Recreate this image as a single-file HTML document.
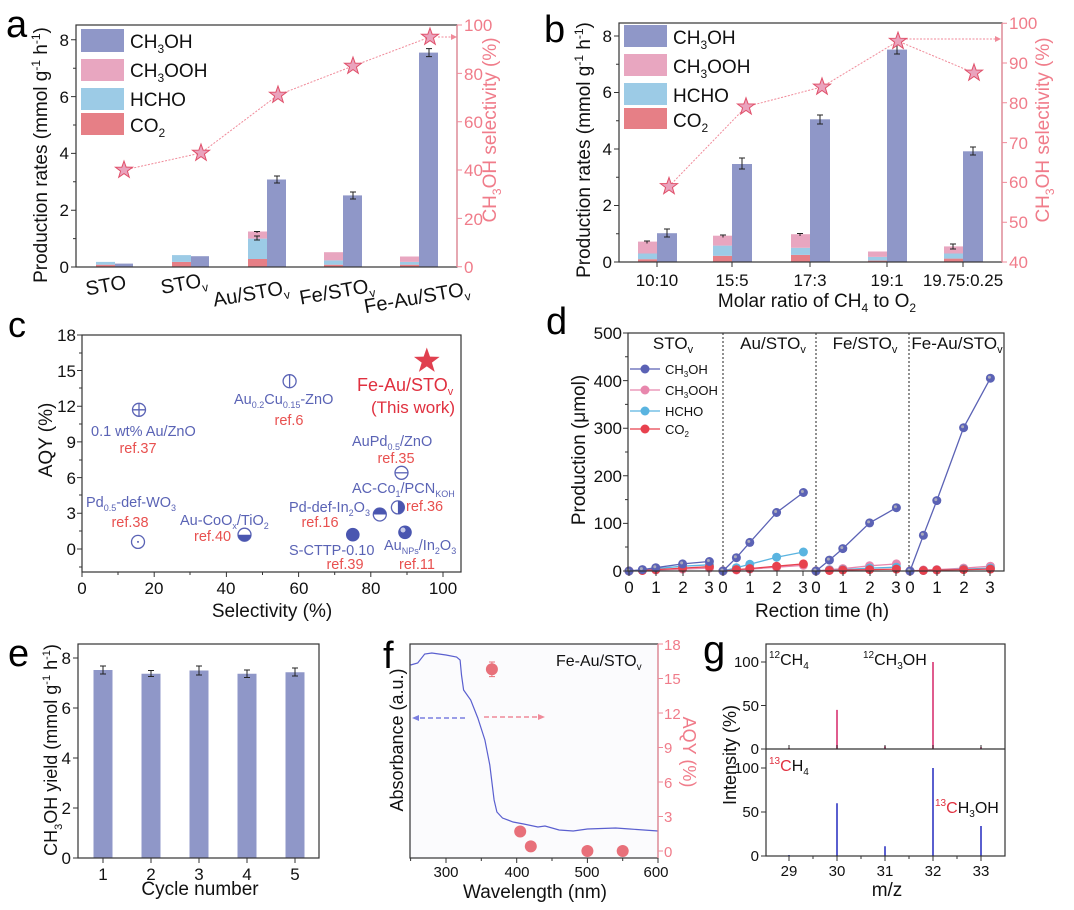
<!DOCTYPE html>
<html><head><meta charset="utf-8"><style>
html,body{margin:0;padding:0;background:#fff}
svg{display:block;font-family:"Liberation Sans",Arial,sans-serif}
</style></head><body>
<svg width="1074" height="910" viewBox="0 0 1074 910" xmlns="http://www.w3.org/2000/svg">
<defs>
<path id="st" d="M0,-9 L2.12,-2.91 L8.56,-2.78 L3.42,1.11 L5.29,7.28 L0,3.6 L-5.29,7.28 L-3.42,1.11 L-8.56,-2.78 L-2.12,-2.91Z" fill="#eaa3bd" stroke="#e0506a" stroke-width="1"/>
<marker id="mB" markerUnits="userSpaceOnUse" markerWidth="12" markerHeight="12" refX="6" refY="6"><circle cx="6" cy="6" r="4.5" fill="#5b62b5"/><circle cx="5" cy="5" r="1.5" fill="#aab"/></marker>
<marker id="mP" markerUnits="userSpaceOnUse" markerWidth="12" markerHeight="12" refX="6" refY="6"><circle cx="6" cy="6" r="4.5" fill="#e887ad"/></marker>
<marker id="mC" markerUnits="userSpaceOnUse" markerWidth="12" markerHeight="12" refX="6" refY="6"><circle cx="6" cy="6" r="4.5" fill="#5ab4e0"/></marker>
<marker id="mR" markerUnits="userSpaceOnUse" markerWidth="12" markerHeight="12" refX="6" refY="6"><circle cx="6" cy="6" r="4.5" fill="#e8414e"/></marker>
</defs>

<!-- ================= PANEL A ================= -->
<text x="6" y="37" font-size="38">a</text>
<g fill="#8f97c8">
<rect x="115" y="263.6" width="18" height="3.4"/><rect x="191" y="256.2" width="18" height="10.8"/>
<rect x="267" y="179.5" width="19" height="87.5"/><rect x="343" y="195.4" width="19" height="71.6"/>
<rect x="419" y="52.6" width="19" height="214.4"/></g>
<g fill="#e67f86"><rect x="96" y="264.7" width="19" height="2.3"/><rect x="172" y="261.9" width="19" height="5.1"/><rect x="248" y="259" width="19" height="8"/><rect x="324" y="264.7" width="19" height="2.3"/><rect x="400" y="264.7" width="19" height="2.3"/></g>
<g fill="#9ccbe6"><rect x="96" y="261.9" width="19" height="2.8"/><rect x="172" y="255.1" width="19" height="6.8"/><rect x="248" y="238.6" width="19" height="20.4"/><rect x="324" y="260.4" width="19" height="4.3"/><rect x="400" y="261.9" width="19" height="2.8"/></g>
<g fill="#e8a6c0"><rect x="248" y="231.5" width="19" height="7.1"/><rect x="324" y="252.2" width="19" height="8.2"/><rect x="400" y="256.5" width="19" height="5.4"/></g>
<g stroke="#222" stroke-width="1"><path d="M277,176v7M274,176h6M274,183h6M353,192v7M350,192h6M350,199h6M429,48.6v8M426,48.6h6M426,56.6h6M257,231v2M254,231.5h6M257,236v4M254,236h6M254,240h6"/></g>
<polyline points="124,170 201,153 278,95 353,66 430,37" fill="none" stroke="#f08a99" stroke-width="1" stroke-dasharray="2,1.5"/>
<path d="M438,37H452" stroke="#f08a99" stroke-dasharray="2,1.5"/><path d="M457,37l-6,-3v6z" fill="#f08a99"/>
<use href="#st" x="124" y="170"/><use href="#st" x="201" y="153"/><use href="#st" x="278" y="95"/><use href="#st" x="353" y="66"/><use href="#st" x="430" y="37"/>
<rect x="76" y="25" width="381" height="242" fill="none" stroke="#333" stroke-width="1.2"/>
<path d="M457,25V267" stroke="#f08a99" stroke-width="1.2"/>
<g stroke="#333"><path d="M76,267h-5M76,210.2h-5M76,153.4h-5M76,96.6h-5M76,39.8h-5M76,238.6h-3M76,181.8h-3M76,125h-3M76,68.2h-3"/></g>
<g stroke="#f08a99"><path d="M457,266.7h5M457,218.4h5M457,170h5M457,121.7h5M457,73.4h5M457,25h5"/></g>
<g font-size="17" text-anchor="end" fill="#111"><text x="69" y="273">0</text><text x="69" y="216">2</text><text x="69" y="159">4</text><text x="69" y="103">6</text><text x="69" y="46">8</text></g>
<g font-size="17" fill="#f07c8a"><text x="464" y="273">0</text><text x="464" y="225">20</text><text x="464" y="176">40</text><text x="464" y="128">60</text><text x="464" y="80">80</text><text x="464" y="31">100</text></g>
<g font-size="19" fill="#111">
<rect x="81" y="29" width="43" height="23" fill="#8f97c8"/><text x="130" y="48">CH<tspan font-size="12" dy="5">3</tspan><tspan dy="-5">OH</tspan></text>
<rect x="81" y="59" width="43" height="22" fill="#e8a6c0"/><text x="130" y="77">CH<tspan font-size="12" dy="5">3</tspan><tspan dy="-5">OOH</tspan></text>
<rect x="81" y="88" width="43" height="22" fill="#9ccbe6"/><text x="130" y="106">HCHO</text>
<rect x="81" y="113" width="43" height="22" fill="#e67f86"/><text x="130" y="132">CO<tspan font-size="12" dy="5">2</tspan></text>
</g>
<g font-size="20" fill="#111" text-anchor="middle">
<text transform="translate(107,292) rotate(-10)">STO</text>
<text transform="translate(185,290) rotate(-10)">STO<tspan font-size="12" dy="5">v</tspan></text>
<text transform="translate(252,300) rotate(-10)">Au/STO<tspan font-size="12" dy="5">v</tspan></text>
<text transform="translate(338,298) rotate(-10)">Fe/STO<tspan font-size="12" dy="5">v</tspan></text>
<text transform="translate(418,304) rotate(-10)">Fe-Au/STO<tspan font-size="12" dy="5">v</tspan></text>
</g>
<text transform="translate(47,155) rotate(-90)" font-size="19" text-anchor="middle" fill="#111">Production rates (mmol g<tspan font-size="12" dy="-7">-1</tspan><tspan dy="7"> h</tspan><tspan font-size="12" dy="-7">-1</tspan><tspan dy="7">)</tspan></text>
<text transform="translate(496,130) rotate(-90)" font-size="19" text-anchor="middle" fill="#f07c8a">CH<tspan font-size="12" dy="5">3</tspan><tspan dy="-5">OH selectivity (%)</tspan></text>

<!-- ================= PANEL B ================= -->
<text x="544" y="42" font-size="38">b</text>
<g fill="#8f97c8"><rect x="657" y="233.2" width="20" height="28.8"/><rect x="732" y="164" width="20" height="98"/><rect x="810" y="119.3" width="20" height="142.7"/><rect x="887" y="49.6" width="20" height="212.4"/><rect x="963" y="151.3" width="20" height="110.7"/></g>
<g fill="#e67f86"><rect x="638" y="259.2" width="19" height="2.8"/><rect x="713" y="255.8" width="19" height="6.2"/><rect x="791" y="254.9" width="19" height="7.1"/><rect x="868" y="260.6" width="19" height="1.4"/><rect x="944" y="258.6" width="19" height="3.4"/></g>
<g fill="#9ccbe6"><rect x="638" y="253.5" width="19" height="5.7"/><rect x="713" y="245.6" width="19" height="10.2"/><rect x="791" y="247.8" width="19" height="7.1"/><rect x="868" y="256.9" width="19" height="3.7"/><rect x="944" y="253.5" width="19" height="5.1"/></g>
<g fill="#e8a6c0"><rect x="638" y="241.6" width="19" height="11.9"/><rect x="713" y="235.7" width="19" height="9.9"/><rect x="791" y="234.2" width="19" height="13.6"/><rect x="868" y="251.5" width="19" height="5.4"/><rect x="944" y="246.4" width="19" height="7.1"/></g>
<g stroke="#222"><path d="M667,229v8M664,229h6M664,237h6M742,158v11M739,158h6M739,169h6M820,115v9M817,115h6M817,124h6M897,45v9M894,45h6M894,54h6M973,147v8M970,147h6M970,155h6M647,240.5v3M644,241h6M723,234.5v3M720,235h6M800,233v3M797,233.5h6M953,244v5M950,244h6M950,249h6"/></g>
<polyline points="669,186.4 746,106.8 822,86.9 898,41.1 974,72.9" fill="none" stroke="#f08a99" stroke-width="1" stroke-dasharray="2,1.5"/>
<path d="M906,39H995" stroke="#f08a99" stroke-dasharray="2,1.5"/><path d="M1001,39l-6,-3v6z" fill="#f08a99"/>
<use href="#st" x="669" y="186.4"/><use href="#st" x="746" y="106.8"/><use href="#st" x="822" y="86.9"/><use href="#st" x="898" y="41.1"/><use href="#st" x="974" y="72.9"/>
<rect x="619" y="23" width="383" height="239" fill="none" stroke="#333" stroke-width="1.2"/>
<path d="M1002,23V262" stroke="#f08a99" stroke-width="1.2"/>
<g stroke="#333"><path d="M619,262h-5M619,205.5h-5M619,149h-5M619,92.5h-5M619,36h-5M619,233.8h-3M619,177.3h-3M619,120.8h-3M619,64.3h-3M657,262v5M732,262v5M810,262v5M887,262v5M963,262v5"/></g>
<g stroke="#f08a99"><path d="M1002,262h5M1002,222.2h5M1002,182.4h5M1002,142.6h5M1002,102.8h5M1002,63h5M1002,23.2h5"/></g>
<g font-size="17" text-anchor="end" fill="#111"><text x="612" y="268">0</text><text x="612" y="211">2</text><text x="612" y="155">4</text><text x="612" y="98">6</text><text x="612" y="42">8</text></g>
<g font-size="17" fill="#f07c8a"><text x="1009" y="268">40</text><text x="1009" y="228">50</text><text x="1009" y="188">60</text><text x="1009" y="149">70</text><text x="1009" y="109">80</text><text x="1009" y="69">90</text><text x="1009" y="29">100</text></g>
<g font-size="17" fill="#111" text-anchor="middle"><text x="657" y="286">10:10</text><text x="732" y="286">15:5</text><text x="810" y="286">17:3</text><text x="887" y="286">19:1</text><text x="963" y="286">19.75:0.25</text></g>
<text x="817" y="307" font-size="19" text-anchor="middle" fill="#111">Molar ratio of CH<tspan font-size="12" dy="5">4</tspan><tspan dy="-5"> to O</tspan><tspan font-size="12" dy="5">2</tspan></text>
<g font-size="19" fill="#111">
<rect x="624" y="25" width="43" height="22" fill="#8f97c8"/><text x="673" y="44">CH<tspan font-size="12" dy="5">3</tspan><tspan dy="-5">OH</tspan></text>
<rect x="624" y="54" width="43" height="22" fill="#e8a6c0"/><text x="673" y="73">CH<tspan font-size="12" dy="5">3</tspan><tspan dy="-5">OOH</tspan></text>
<rect x="624" y="83" width="43" height="22" fill="#9ccbe6"/><text x="673" y="102">HCHO</text>
<rect x="624" y="108" width="43" height="21" fill="#e67f86"/><text x="673" y="127">CO<tspan font-size="12" dy="5">2</tspan></text>
</g>
<text transform="translate(590,150) rotate(-90)" font-size="19" text-anchor="middle" fill="#111">Production rates (mmol g<tspan font-size="12" dy="-7">-1</tspan><tspan dy="7"> h</tspan><tspan font-size="12" dy="-7">-1</tspan><tspan dy="7">)</tspan></text>
<text transform="translate(1049,130) rotate(-90)" font-size="19" text-anchor="middle" fill="#f07c8a">CH<tspan font-size="12" dy="5">3</tspan><tspan dy="-5">OH selectivity (%)</tspan></text>

<!-- ================= PANEL C ================= -->
<text x="8" y="337" font-size="36">c</text>
<rect x="82" y="335" width="379" height="237" fill="none" stroke="#333" stroke-width="1.2"/>
<g stroke="#333"><path d="M82,549h-5M82,513.3h-5M82,477.6h-5M82,441.9h-5M82,406.2h-5M82,370.5h-5M82,335h-5M82,531h-3M82,495h-3M82,460h-3M82,424h-3M82,388h-3M82,353h-3M82,567h-3M82,572v5M154.2,572v5M226.4,572v5M298.6,572v5M370.8,572v5M443,572v5M118,572v3M190,572v3M262.5,572v3M334.7,572v3M407,572v3"/></g>
<g font-size="17" text-anchor="end" fill="#111"><text x="76" y="555">0</text><text x="76" y="519">3</text><text x="76" y="484">6</text><text x="76" y="448">9</text><text x="76" y="412">12</text><text x="76" y="377">15</text><text x="76" y="341">18</text></g>
<g font-size="17" text-anchor="middle" fill="#111"><text x="82" y="594">0</text><text x="154" y="594">20</text><text x="226" y="594">40</text><text x="299" y="594">60</text><text x="371" y="594">80</text><text x="443" y="594">100</text></g>
<text x="272" y="617" font-size="19" text-anchor="middle" fill="#111">Selectivity (%)</text>
<text transform="translate(52,440) rotate(-90)" font-size="19" text-anchor="middle" fill="#111">AQY (%)</text>
<g fill="none" stroke="#5a63b5" stroke-width="1.3">
<circle cx="139" cy="409.8" r="6.5"/><path d="M132.5,409.8h13M139,403.3v13"/>
<circle cx="289.6" cy="381.2" r="6.5"/><path d="M289.6,374.7v13"/>
<circle cx="138" cy="541.9" r="6.5"/>
<circle cx="401.5" cy="472.8" r="6.5"/><path d="M395,472.8h13"/>
<circle cx="244.5" cy="534.7" r="6.5"/><circle cx="379.8" cy="514.5" r="6.5"/><circle cx="397.9" cy="507.4" r="6.5"/>
</g>
<circle cx="138" cy="541.9" r="1" fill="#5a63b5"/>
<g fill="#4a56b0">
<path d="M238,534.7a6.5,6.5 0 0 0 13,0z"/>
<path d="M373.3,514.5a6.5,6.5 0 0 1 13,0z"/>
<path d="M397.9,500.9a6.5,6.5 0 0 1 0,13z"/>
<circle cx="352.8" cy="534.7" r="6.8"/><circle cx="405" cy="532.3" r="6.8"/></g>
<circle cx="403" cy="530" r="2.5" fill="#c8cbe8"/>
<path transform="translate(426.8,361) scale(1.5)" d="M0,-9 L2.12,-2.91 L8.56,-2.78 L3.42,1.11 L5.29,7.28 L0,3.6 L-5.29,7.28 L-3.42,1.11 L-8.56,-2.78 L-2.12,-2.91Z" fill="#e0404f"/>
<g font-size="14.5" fill="#5a63b5">
<text x="91" y="436">0.1 wt% Au/ZnO</text>
<text x="234" y="404">Au<tspan font-size="9" dy="4">0.2</tspan><tspan dy="-4">Cu</tspan><tspan font-size="9" dy="4">0.15</tspan><tspan dy="-4">-ZnO</tspan></text>
<text x="352" y="446">AuPd<tspan font-size="9" dy="4">0.5</tspan><tspan dy="-4">/ZnO</tspan></text>
<text x="352" y="493">AC-Co<tspan font-size="9" dy="4">1</tspan><tspan dy="-4">/PCN</tspan><tspan font-size="9" dy="4">KOH</tspan></text>
<text x="86" y="507">Pd<tspan font-size="9" dy="4">0.5</tspan><tspan dy="-4">-def-WO</tspan><tspan font-size="9" dy="4">3</tspan></text>
<text x="180" y="525">Au-CoO<tspan font-size="9" dy="4">x</tspan><tspan dy="-4">/TiO</tspan><tspan font-size="9" dy="4">2</tspan></text>
<text x="289" y="512">Pd-def-In<tspan font-size="9" dy="4">2</tspan><tspan dy="-4">O</tspan><tspan font-size="9" dy="4">3</tspan></text>
<text x="289" y="555">S-CTTP-0.10</text>
<text x="384" y="550">Au<tspan font-size="9" dy="4">NPs</tspan><tspan dy="-4">/In</tspan><tspan font-size="9" dy="4">2</tspan><tspan dy="-4">O</tspan><tspan font-size="9" dy="4">3</tspan></text>
</g>
<g font-size="14.5" fill="#e8504f" text-anchor="middle">
<text x="138" y="453">ref.37</text><text x="289" y="425">ref.6</text><text x="396" y="463">ref.35</text><text x="130" y="527">ref.38</text><text x="320" y="527">ref.16</text><text x="345" y="569">ref.39</text><text x="417" y="569">ref.11</text></g>
<text x="406" y="511" font-size="14.5" fill="#e8504f">ref.36</text>
<text x="194" y="541" font-size="14.5" fill="#e8504f">ref.40</text>
<text x="357" y="391" font-size="18" fill="#e0303f">Fe-Au/STO<tspan font-size="11" dy="4">v</tspan></text>
<text x="413" y="413" font-size="17" fill="#e0303f" text-anchor="middle">(This work)</text>

<!-- ================= PANEL D ================= -->
<text x="546" y="334" font-size="38">d</text>
<g stroke="#222" stroke-dasharray="2,2" stroke-width="1"><path d="M723,333V571M816,333V571M909,333V571"/></g>
<g fill="none" stroke-width="1.3">
<polyline stroke="#e887ad" marker-start="url(#mP)" marker-mid="url(#mP)" marker-end="url(#mP)" points="629,571 642.4,570.5 655.8,570 682.6,569.1 709.4,568.1"/>
<polyline stroke="#5ab4e0" marker-start="url(#mC)" marker-mid="url(#mC)" marker-end="url(#mC)" points="629,571 642.4,570 655.8,568.6 682.6,566.2 709.4,564.8"/>
<polyline stroke="#e8414e" marker-start="url(#mR)" marker-mid="url(#mR)" marker-end="url(#mR)" points="629,571 642.4,570.5 655.8,569.6 682.6,568.1 709.4,566.7"/>
<polyline stroke="#5b62b5" marker-start="url(#mB)" marker-mid="url(#mB)" marker-end="url(#mB)" points="629,571 642.4,569.6 655.8,567.7 682.6,563.9 709.4,561.5"/>
<polyline stroke="#e887ad" marker-start="url(#mP)" marker-mid="url(#mP)" marker-end="url(#mP)" points="723,571 736.4,570 749.8,569.1 776.6,567.2 803.4,565.3"/>
<polyline stroke="#5ab4e0" marker-start="url(#mC)" marker-mid="url(#mC)" marker-end="url(#mC)" points="723,571 736.4,567.7 749.8,564.3 776.6,557.2 803.4,552"/>
<polyline stroke="#e8414e" marker-start="url(#mR)" marker-mid="url(#mR)" marker-end="url(#mR)" points="723,571 736.4,569.6 749.8,568.6 776.6,566.2 803.4,563.9"/>
<polyline stroke="#5b62b5" marker-start="url(#mB)" marker-mid="url(#mB)" marker-end="url(#mB)" points="723,571 736.4,557.7 749.8,542.4 776.6,512.5 803.4,492.5"/>
<polyline stroke="#e887ad" marker-start="url(#mP)" marker-mid="url(#mP)" marker-end="url(#mP)" points="816,571 829.4,569.6 842.8,568.6 869.6,565.8 896.4,563.9"/>
<polyline stroke="#5ab4e0" marker-start="url(#mC)" marker-mid="url(#mC)" marker-end="url(#mC)" points="816,571 829.4,570 842.8,569.6 869.6,568.1 896.4,567.2"/>
<polyline stroke="#e8414e" marker-start="url(#mR)" marker-mid="url(#mR)" marker-end="url(#mR)" points="816,571 829.4,570.5 842.8,570 869.6,569.6 896.4,569.1"/>
<polyline stroke="#5b62b5" marker-start="url(#mB)" marker-mid="url(#mB)" marker-end="url(#mB)" points="816,571 829.4,560.1 842.8,548.6 869.6,522.9 896.4,507.7"/>
<polyline stroke="#e887ad" marker-start="url(#mP)" marker-mid="url(#mP)" marker-end="url(#mP)" points="910,571 923.4,570 936.8,569.6 963.6,568.1 990.4,566.2"/>
<polyline stroke="#5ab4e0" marker-start="url(#mC)" marker-mid="url(#mC)" marker-end="url(#mC)" points="910,571 923.4,570.5 936.8,570 963.6,569.1 990.4,568.1"/>
<polyline stroke="#e8414e" marker-start="url(#mR)" marker-mid="url(#mR)" marker-end="url(#mR)" points="910,571 923.4,570.5 936.8,570 963.6,569.6 990.4,569.1"/>
<polyline stroke="#5b62b5" marker-start="url(#mB)" marker-mid="url(#mB)" marker-end="url(#mB)" points="910,571 923.4,535.3 936.8,500.6 963.6,427.7 990.4,378.2"/>
</g>
<rect x="628" y="333" width="376" height="238" fill="none" stroke="#333" stroke-width="1.2"/>
<g stroke="#333"><path d="M628,571h-5M628,523.4h-5M628,475.8h-5M628,428.2h-5M628,380.6h-5M628,333h-5M628,547h-3M628,499.6h-3M628,452h-3M628,404.4h-3M628,356.8h-3
M629,571v5M656,571v5M683,571v5M709,571v5M723,571v5M750,571v5M777,571v5M803,571v5M816,571v5M843,571v5M870,571v5M896,571v5M910,571v5M937,571v5M964,571v5M990,571v5"/></g>
<g font-size="17" text-anchor="end" fill="#111"><text x="622" y="577">0</text><text x="622" y="529">100</text><text x="622" y="482">200</text><text x="622" y="434">300</text><text x="622" y="387">400</text><text x="622" y="339">500</text></g>
<g font-size="17" text-anchor="middle" fill="#111"><text x="629" y="593">0</text><text x="656" y="593">1</text><text x="683" y="593">2</text><text x="709" y="593">3</text><text x="723" y="593">0</text><text x="750" y="593">1</text><text x="777" y="593">2</text><text x="803" y="593">3</text><text x="816" y="593">0</text><text x="843" y="593">1</text><text x="870" y="593">2</text><text x="896" y="593">3</text><text x="910" y="593">0</text><text x="937" y="593">1</text><text x="964" y="593">2</text><text x="990" y="593">3</text></g>
<text x="822" y="617" font-size="19" text-anchor="middle" fill="#111">Rection time (h)</text>
<text transform="translate(585,450) rotate(-90)" font-size="19" text-anchor="middle" fill="#111">Production (μmol)</text>
<g font-size="17" text-anchor="middle" fill="#111">
<text x="673" y="349">STO<tspan font-size="11" dy="4">v</tspan></text><text x="773" y="349">Au/STO<tspan font-size="11" dy="4">v</tspan></text><text x="865" y="349">Fe/STO<tspan font-size="11" dy="4">v</tspan></text><text x="957" y="349">Fe-Au/STO<tspan font-size="11" dy="4">v</tspan></text></g>
<g stroke-width="1.3">
<path d="M630,369h30" stroke="#5b62b5"/><circle cx="645" cy="369" r="4.5" fill="#5b62b5"/>
<path d="M630,390h30" stroke="#e887ad"/><circle cx="645" cy="390" r="4.5" fill="#e887ad"/>
<path d="M630,411h30" stroke="#5ab4e0"/><circle cx="645" cy="411" r="4.5" fill="#5ab4e0"/>
<path d="M630,429h30" stroke="#e8414e"/><circle cx="645" cy="429" r="4.5" fill="#e8414e"/></g>
<g font-size="13" fill="#111">
<text x="665" y="374">CH<tspan font-size="8" dy="3">3</tspan><tspan dy="-3">OH</tspan></text>
<text x="665" y="395">CH<tspan font-size="8" dy="3">3</tspan><tspan dy="-3">OOH</tspan></text>
<text x="665" y="416">HCHO</text>
<text x="665" y="434">CO<tspan font-size="8" dy="3">2</tspan></text></g>

<!-- ================= PANEL E ================= -->
<text x="8" y="666" font-size="38">e</text>
<g fill="#8f97c8"><rect x="93.5" y="670" width="19" height="188"/><rect x="141.5" y="673.75" width="19" height="184.25"/><rect x="189.5" y="670.5" width="19" height="187.5"/><rect x="237.5" y="673.75" width="19" height="184.25"/><rect x="285.5" y="672.25" width="19" height="185.75"/></g>
<g stroke="#222"><path d="M103,666v8M100,666h6M100,674h6M151,670.5v6M148,670.5h6M148,676.5h6M199,666v9M196,666h6M196,675h6M247,670v7.5M244,670h6M244,677.5h6M295,668v8M292,668h6M292,676h6"/></g>
<rect x="78" y="644" width="241" height="214" fill="none" stroke="#333" stroke-width="1.2"/>
<g stroke="#333"><path d="M78,858h-5M78,808h-5M78,758h-5M78,708h-5M78,658h-5M103,858v5M151,858v5M199,858v5M247,858v5M295,858v5"/></g>
<g font-size="17" text-anchor="end" fill="#111"><text x="71" y="864">0</text><text x="71" y="814">2</text><text x="71" y="764">4</text><text x="71" y="714">6</text><text x="71" y="664">8</text></g>
<g font-size="17" text-anchor="middle" fill="#111"><text x="103" y="880">1</text><text x="151" y="880">2</text><text x="199" y="880">3</text><text x="247" y="880">4</text><text x="295" y="880">5</text></g>
<text x="200" y="895" font-size="19" text-anchor="middle" fill="#111">Cycle number</text>
<text transform="translate(57,750) rotate(-90)" font-size="18" text-anchor="middle" fill="#111">CH<tspan font-size="11" dy="5">3</tspan><tspan dy="-5">OH yield (mmol g</tspan><tspan font-size="11" dy="-7">-1</tspan><tspan dy="7"> h</tspan><tspan font-size="11" dy="-7">-1</tspan><tspan dy="7">)</tspan></text>

<!-- ================= PANEL F ================= -->
<text x="383" y="668" font-size="38">f</text>
<rect x="410" y="644" width="248" height="214" fill="#fbfbfd"/>
<polyline fill="none" stroke="#5a5fcf" stroke-width="1.2" points="410.6,665 417.7,663 424.7,654 431.8,653 446,655 456.6,657 460.1,660 461.5,675 463.6,690 470.7,700 477.8,718 484.9,740 489.8,765 494.1,800 496.9,812 502.5,818 513.1,822 523.7,824 537.9,827 545,826 559.1,830 573.2,831 587.4,829 615.7,828 629.8,829 658,831"/>
<path d="M465,718H418" stroke="#7a7ee0" stroke-width="1.5" stroke-dasharray="5,3"/><path d="M412,718l7,-3v6z" fill="#7a7ee0"/>
<path d="M484,717H539" stroke="#f08a99" stroke-width="1.5" stroke-dasharray="5,3"/><path d="M545,717l-7,-3v6z" fill="#f08a99"/>
<g fill="#e8707a"><circle cx="491.9" cy="669.3" r="6"/><circle cx="520.2" cy="831.5" r="6"/><circle cx="530.8" cy="846.4" r="6"/><circle cx="587.4" cy="851" r="6"/><circle cx="622.7" cy="851" r="6"/></g>
<path d="M491.9,662v14.6M489,662h6M489,676.6h6" stroke="#e8707a"/>
<rect x="410" y="644" width="248" height="214" fill="none" stroke="#333" stroke-width="1.2"/>
<path d="M658,644V858" stroke="#f08a99" stroke-width="1.2"/>
<g stroke="#333"><path d="M446,858v5M516.7,858v5M587.4,858v5M658,858v5M410.6,858v3M481.3,858v3M552,858v3M622.7,858v3"/></g>
<g stroke="#f08a99"><path d="M658,851h5M658,816.5h5M658,782h5M658,747.5h5M658,713h5M658,678.5h5M658,644h5"/></g>
<g font-size="15" fill="#f07c8a"><text x="664" y="857">0</text><text x="664" y="822">3</text><text x="664" y="788">6</text><text x="664" y="753">9</text><text x="664" y="719">12</text><text x="664" y="684">15</text><text x="664" y="650">18</text></g>
<g font-size="15" text-anchor="middle" fill="#111"><text x="446" y="877">300</text><text x="517" y="877">400</text><text x="587" y="877">500</text><text x="656" y="877">600</text></g>
<text x="535" y="898" font-size="19" text-anchor="middle" fill="#111">Wavelength (nm)</text>
<text transform="translate(403,740) rotate(-90)" font-size="18" text-anchor="middle" fill="#111">Absorbance (a.u.)</text>
<text transform="translate(683,752) rotate(90)" font-size="18" text-anchor="middle" fill="#f07c8a">AQY (%)</text>
<text x="556" y="666" font-size="16" fill="#111">Fe-Au/STO<tspan font-size="10" dy="4">v</tspan></text>

<!-- ================= PANEL G ================= -->
<text x="703" y="663" font-size="40">g</text>
<g stroke="#e05c8e" stroke-width="2"><path d="M789,749V748M837,749V709.9M885,749V746.4M933,749V662M981,749V747.3"/></g>
<g stroke="#5a5fcf" stroke-width="2"><path d="M789,856V855M837,856V803.2M885,856V846.3M933,856V768M981,856V826"/></g>
<rect x="766" y="644" width="239" height="212" fill="none" stroke="#333" stroke-width="1.2"/>
<path d="M766,749H1005" stroke="#333" stroke-width="1.2"/>
<g stroke="#333"><path d="M766,749h-5M766,705.5h-5M766,662h-5M766,856h-5M766,812h-5M766,768h-5M789,856v5M837,856v5M885,856v5M933,856v5M981,856v5M813,856v3M861,856v3M909,856v3M957,856v3M789,749v-4M837,749v-4M885,749v-4M933,749v-4M981,749v-4"/></g>
<g font-size="15" text-anchor="end" fill="#111"><text x="759" y="754">0</text><text x="759" y="711">50</text><text x="759" y="667">100</text><text x="759" y="861">0</text><text x="759" y="817">50</text><text x="759" y="773">100</text></g>
<g font-size="15" text-anchor="middle" fill="#111"><text x="789" y="876">29</text><text x="837" y="876">30</text><text x="885" y="876">31</text><text x="933" y="876">32</text><text x="981" y="876">33</text></g>
<text x="887" y="896" font-size="19" text-anchor="middle" fill="#111">m/z</text>
<text transform="translate(736,755) rotate(-90)" font-size="18" text-anchor="middle" fill="#111">Intensity (%)</text>
<g font-size="16" fill="#111">
<text x="769" y="665"><tspan font-size="10" dy="-7">12</tspan><tspan dy="7">CH</tspan><tspan font-size="10" dy="4">4</tspan></text>
<text x="863" y="665"><tspan font-size="10" dy="-7">12</tspan><tspan dy="7">CH</tspan><tspan font-size="10" dy="4">3</tspan><tspan dy="-4">OH</tspan></text>
<text x="769" y="771"><tspan font-size="10" dy="-7" fill="#e0303f">13</tspan><tspan dy="7" fill="#e0303f">C</tspan><tspan>H</tspan><tspan font-size="10" dy="4">4</tspan></text>
<text x="935" y="813"><tspan font-size="10" dy="-7" fill="#e0303f">13</tspan><tspan dy="7" fill="#e0303f">C</tspan><tspan>H</tspan><tspan font-size="10" dy="4">3</tspan><tspan dy="-4">OH</tspan></text>
</g>
</svg>
</body></html>
